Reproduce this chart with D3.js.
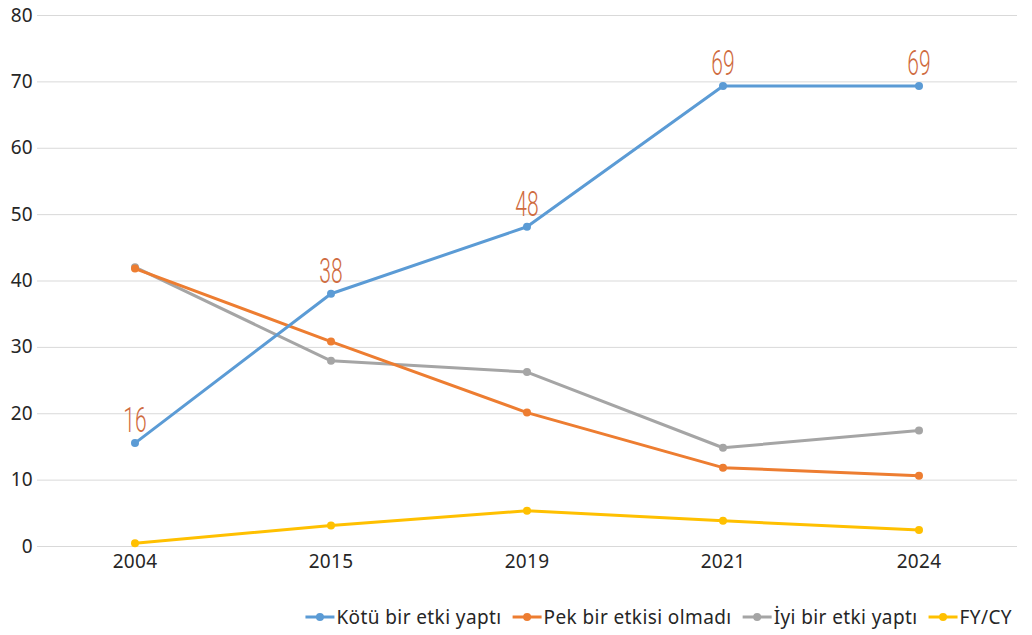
<!DOCTYPE html>
<html>
<head>
<meta charset="utf-8">
<script src="https://cdn.jsdelivr.net/npm/d3@7"></script>
<style>
  body { margin: 0; background: #fff; }
  svg { display: block; font-family: "Noto Sans", "Open Sans", sans-serif; }
</style>
</head>
<body>
<svg id="chart"></svg>
<script>
const years = ['2004', '2015', '2019', '2021', '2024'];
const kotu = [15.5, 38, 48.1, 69.3, 69.3];
const pekEtkisi = [41.8, 30.8, 20.1, 11.8, 10.6];
const iyi = [42.0, 27.9, 26.2, 14.8, 17.4];
const fycy = [0.4, 3.1, 5.3, 3.8, 2.4];
const kotuLabels = ['16', '38', '48', '69', '69'];
const yTicks = [0, 10, 20, 30, 40, 50, 60, 70, 80];

const series = [
  { name: 'Kötü bir etki yaptı', values: kotu, color: '#5B9BD5' },
  { name: 'Pek bir etkisi olmadı', values: pekEtkisi, color: '#ED7D31' },
  { name: 'İyi bir etki yaptı', values: iyi, color: '#A5A5A5' },
  { name: 'FY/CY', values: fycy, color: '#FFC000' }
];

const outerWidth = 1032, outerHeight = 635;
const margin = { top: 15, right: 15, bottom: 89, left: 37 };
const width = outerWidth - margin.left - margin.right;
const height = outerHeight - margin.top - margin.bottom;
const fontSize = 19;

const svg = d3.select('#chart')
  .attr('width', outerWidth)
  .attr('height', outerHeight);

const x = d3.scaleBand().domain(years).range([0, width]);
const y = d3.scaleLinear().domain([0, 80]).range([height, 0]);

const g = svg.append('g')
  .attr('transform', `translate(${margin.left},${margin.top})`);

// gridlines
g.append('g')
  .selectAll('line')
  .data(yTicks)
  .join('line')
  .attr('x1', 0)
  .attr('x2', width)
  .attr('y1', d => y(d) + 0.5)
  .attr('y2', d => y(d) + 0.5)
  .attr('stroke', '#d9d9d9')
  .attr('stroke-width', 1);

// y axis labels
const yAxis = g.append('g')
  .call(d3.axisLeft(y).tickValues(yTicks).tickSize(0).tickPadding(4));
yAxis.select('.domain').remove();
yAxis.selectAll('text')
  .attr('font-size', fontSize)
  .attr('letter-spacing', 0.3)
  .attr('font-family', '"Noto Sans", sans-serif')
  .attr('fill', '#262626');

// x axis labels
const xAxis = g.append('g')
  .attr('transform', `translate(0,${height})`)
  .call(d3.axisBottom(x).tickSize(0).tickPadding(9));
xAxis.select('.domain').remove();
xAxis.selectAll('text')
  .attr('font-size', fontSize)
  .attr('letter-spacing', 0.3)
  .attr('font-family', '"Noto Sans", sans-serif')
  .attr('fill', '#262626');

const cx = (d, i) => x(years[i]) + x.bandwidth() / 2;
const line = d3.line()
  .x(cx)
  .y(d => y(d));

// draw from last to first so the blue series sits on top
const seriesG = g.append('g');
series.slice().reverse().forEach(s => {
  const sg = seriesG.append('g');
  sg.append('path')
    .datum(s.values)
    .attr('fill', 'none')
    .attr('stroke', s.color)
    .attr('stroke-width', 3)
    .attr('stroke-linejoin', 'round')
    .attr('stroke-linecap', 'round')
    .attr('d', line);
  sg.selectAll('circle')
    .data(s.values)
    .join('circle')
    .attr('cx', cx)
    .attr('cy', d => y(d))
    .attr('r', 4)
    .attr('fill', s.color);
});

// data labels for the blue series
g.append('g')
  .selectAll('text')
  .data(kotu)
  .join('text')
  .attr('transform', (d, i) => `translate(${cx(d, i)},${y(d) - 11}) scale(0.6,1)`)
  .attr('text-anchor', 'middle')
  .attr('font-family', 'Roboto, sans-serif')
  .attr('font-weight', 300)
  .attr('font-size', 35)
  .attr('fill', '#CF6B3E')
  .text((d, i) => kotuLabels[i]);

// legend, right aligned
const legend = svg.append('g').attr('transform', 'translate(0,617)');
const items = series.map(s => {
  const lg = legend.append('g');
  lg.append('line')
    .attr('x1', 0).attr('x2', 29)
    .attr('stroke', s.color).attr('stroke-width', 3);
  lg.append('circle').attr('cx', 14.5).attr('r', 4).attr('fill', s.color);
  const t = lg.append('text')
    .attr('x', 31)
    .attr('dy', '0.35em')
    .attr('font-size', fontSize)
    .attr('letter-spacing', 0.4)
    .attr('font-family', '"Noto Sans", sans-serif')
    .attr('fill', '#262626')
    .text(s.name);
  return { lg, w: 31 + t.node().getComputedTextLength() };
});
const gap = 11;
const total = d3.sum(items, d => d.w) + gap * (items.length - 1);
let lx = 1012 - total;
items.forEach(it => {
  it.lg.attr('transform', `translate(${lx},0)`);
  lx += it.w + gap;
});
</script>
</body>
</html>
